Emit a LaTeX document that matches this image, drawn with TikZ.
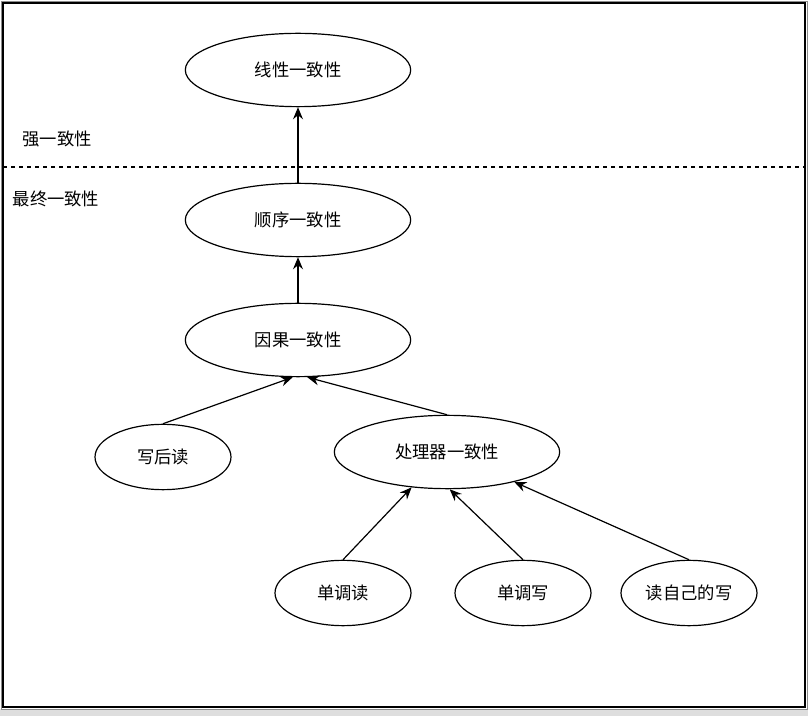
\documentclass[tikz,border=0pt]{standalone}
\usepackage{fontspec}
\newfontfamily\cjk{Noto Sans CJK SC}
\usetikzlibrary{arrows.meta,shapes.geometric}

\begin{document}
\begin{tikzpicture}[x=0.75pt, y=-0.75pt, font=\cjk\fontsize{13}{15}\selectfont,
  level/.style={draw, ellipse, line width=0.9pt, inner sep=0pt, minimum width=169pt, minimum height=55pt},
  leaf/.style={draw, ellipse, line width=0.9pt, inner sep=0pt, minimum width=102pt, minimum height=49pt},
  arrow/.style={-{Stealth[length=9pt, width=7.5pt, inset=3pt]}, line width=0.9pt}]
\useasboundingbox (0,0) rectangle (808,716);
% frame
\fill[black!13] (0,709) rectangle (808,716);
\draw[black!45, line width=0.6pt] (1,1) rectangle (807,709);
\draw[line width=0.9pt] (3,3) rectangle (805,707);
\draw[dashed, dash pattern=on 3pt off 3pt, line width=0.8pt] (3,167) -- (805,167);
\node (strong) at (57,139) {强一致性};
\node (eventual) at (56,199) {最终一致性};
% levels
\node[level] (a) at (298,70) {线性一致性};
\node[level] (b) at (298,220) {顺序一致性};
\node[level] (c) at (298,340) {因果一致性};
\node[leaf] (d) at (163,457) {写后读};
\node[level] (e) at (447,452) {处理器一致性};
\node[leaf] (f) at (343,593) {单调读};
\node[leaf] (g) at (523,593) {单调写};
\node[leaf] (h) at (689,593) {读自己的写};
\draw[arrow] (b.north) -- (a.south);
\draw[arrow] (c.north) -- (b.south);
\draw[arrow] (d.north) -- ([xshift=-4pt]c.south);
\draw[arrow] (e.north) -- ([xshift=7pt]c.south);
\draw[arrow] (f.north) -- (e.225);
\draw[arrow] (g.north) -- ([xshift=2pt]e.south);
\draw[arrow] (h.north) -- (e.336);
\end{tikzpicture}
\end{document}
